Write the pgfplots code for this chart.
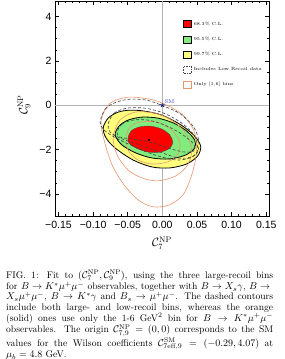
\documentclass[border=0pt]{standalone}
\usepackage{pgfplots}
\pgfplotsset{compat=1.18}
\usepackage{fontspec}
\newfontfamily\tickfont{Liberation Sans}
\definecolor{cred}{rgb}{1,0,0}
\definecolor{cgreen}{RGB}{130,235,125}
\definecolor{cyellow}{RGB}{255,255,125}
\definecolor{corange}{RGB}{232,150,110}
\definecolor{smblue}{RGB}{60,60,220}
\begin{document}
\begin{tikzpicture}
\path[use as bounding box] (-55pt,-143pt) rectangle (229pt,216pt);
\begin{axis}[
 at={(0pt,0pt)}, anchor=south west,
 scale only axis, width=214pt, height=215pt,
 xmin=-0.155, xmax=0.154, ymin=-5, ymax=4.7,
 xtick={-0.15,-0.1,-0.05,0,0.05,0.1,0.15},
 xticklabels={−0.15,−0.10,−0.05,0.00,0.05,0.10,0.15},
 ytick={-4,-2,0,2,4},
 yticklabels={−4,−2,0,2,4},
 minor x tick num=4, minor y tick num=3,
 tick align=inside,
 major tick length=4pt, minor tick length=2pt,
 tick style={black, line width=0.5pt},
 axis line style={line width=0.7pt},
 tick label style={font=\tickfont\fontsize{10.5}{12}\selectfont},
 xticklabel style={yshift=-1.5pt},
 xlabel={$\mathcal{C}_7^{\mathrm{NP}}$},
 ylabel={$\mathcal{C}_9^{\mathrm{NP}}$},
 every axis x label/.style={at={(axis description cs:0.5,-0.126)}, anchor=center, font=\fontsize{12}{14}\selectfont},
 every axis y label/.style={at={(axis description cs:-0.145,0.516)}, anchor=center, rotate=90, font=\fontsize{12}{14}\selectfont},
 legend style={at={(rel axis cs:0.598,0.914)}, anchor=north west, draw=none, fill=none,
   font=\fontsize{4.5}{5.4}\selectfont, row sep=6.3pt, inner sep=0pt},
 legend cell align=left,
]
% axes lines
\addplot[forget plot, gray!60, line width=0.5pt] coordinates {(0,-5) (0,4.7)};
\addplot[forget plot, gray!60, line width=0.5pt] coordinates {(-0.155,0) (0.154,0)};
% 99.7% yellow
\addplot[forget plot, smooth cycle, fill=cyellow, draw=black, line width=0.8pt] coordinates {
(-0.0855,-1.034) (-0.0783,-0.584) (-0.0639,-0.315) (-0.0467,-0.225) (-0.0251,-0.270)
(-0.0007,-0.449) (0.0251,-0.854) (0.0453,-1.348) (0.0553,-1.843) (0.0510,-2.292)
(0.0352,-2.652) (0.0108,-2.831) (-0.0151,-2.787) (-0.0424,-2.472) (-0.0682,-1.933) (-0.0812,-1.483)};
% 95.5% green
\addplot[forget plot, smooth cycle, fill=cgreen, draw=black, line width=0.8pt] coordinates {
(-0.0682,-1.348) (-0.0625,-0.944) (-0.0496,-0.674) (-0.0295,-0.539) (-0.0065,-0.584)
(0.0165,-0.809) (0.0352,-1.169) (0.0467,-1.573) (0.0467,-1.933) (0.0338,-2.247)
(0.0108,-2.427) (-0.0151,-2.382) (-0.0381,-2.157) (-0.0582,-1.798)};
% 68.3% red
\addplot[forget plot, smooth cycle, fill=cred, draw=black!70, line width=0.4pt] coordinates {
(-0.0496,-1.483) (-0.0453,-1.169) (-0.0338,-0.989) (-0.0180,-0.944) (-0.0007,-1.079)
(0.0108,-1.348) (0.0151,-1.663) (0.0108,-1.933) (-0.0022,-2.112) (-0.0208,-2.112)
(-0.0381,-1.933) (-0.0481,-1.708)};
% orange (only [1,6] bins)
\addplot[forget plot, smooth cycle, draw=corange, line width=0.6pt] coordinates {
(-0.0496,0.360) (-0.0180,0.270) (0.0036,0.045) (0.0280,-0.404) (0.0453,-1.124)
(0.0496,-2.022) (0.0438,-3.011) (0.0309,-4.000) (0.0108,-4.494) (-0.0136,-4.584)
(-0.0352,-4.270) (-0.0553,-3.596) (-0.0726,-2.697) (-0.0841,-1.573) (-0.0884,-0.674) (-0.0754,0.090)};
\addplot[forget plot, smooth cycle, draw=corange, line width=0.6pt] coordinates {
(-0.0395,-0.315) (-0.0108,-0.360) (0.0136,-0.674) (0.0338,-1.258) (0.0424,-2.022)
(0.0366,-2.697) (0.0194,-3.191) (-0.0065,-3.416) (-0.0295,-3.281) (-0.0496,-2.921)
(-0.0654,-2.247) (-0.0711,-1.438) (-0.0611,-0.674)};
\addplot[forget plot, smooth cycle, draw=corange, line width=0.6pt] coordinates {
(-0.0323,-0.764) (-0.0065,-0.764) (0.0136,-1.124) (0.0251,-1.663) (0.0223,-2.202)
(0.0079,-2.562) (-0.0151,-2.652) (-0.0352,-2.472) (-0.0496,-2.022) (-0.0524,-1.393) (-0.0453,-0.944)};
% dashed (includes low recoil)
\addplot[forget plot, smooth cycle, draw=black!75, dash pattern=on 3pt off 2pt, line width=0.6pt] coordinates {
(-0.0654,-1.213) (-0.0582,-0.854) (-0.0424,-0.674) (-0.0208,-0.674) (0.0036,-0.899)
(0.0280,-1.303) (0.0453,-1.753) (0.0453,-2.067) (0.0309,-2.112) (0.0079,-1.933)
(-0.0180,-1.663) (-0.0438,-1.528) (-0.0611,-1.438)};
\addplot[forget plot, smooth cycle, draw=black!75, dash pattern=on 3pt off 2pt, line width=0.6pt] coordinates {
(-0.0783,-0.854) (-0.0697,-0.360) (-0.0510,-0.135) (-0.0251,-0.135) (0.0022,-0.360)
(0.0280,-0.809) (0.0467,-1.393) (0.0510,-2.022) (0.0424,-2.337) (0.0223,-2.382)
(-0.0036,-2.112) (-0.0323,-1.798) (-0.0611,-1.483) (-0.0754,-1.213)};
\addplot[forget plot, smooth cycle, draw=black!75, dash pattern=on 3pt off 2pt, line width=0.6pt] coordinates {
(-0.0898,-0.764) (-0.0826,-0.180) (-0.0668,0.135) (-0.0467,0.270) (-0.0223,0.225)
(0.0022,-0.045) (0.0266,-0.404) (0.0453,-0.989) (0.0524,-1.573) (0.0510,-2.112)
(0.0395,-2.382) (0.0194,-2.472) (-0.0108,-2.247) (-0.0395,-1.888) (-0.0668,-1.483) (-0.0841,-1.124)};
% best fit point
\addplot[forget plot, only marks, mark=*, mark size=0.8pt, black] coordinates {(-0.0194,-1.57)};
% SM point
\addplot[forget plot, only marks, mark=star, mark size=2.2pt, mark options={draw=gray!40!blue!60!black, line width=0.8pt}] coordinates {(0,0)}
 node[anchor=south west, font=\fontsize{5.5}{6}\selectfont, text=smblue, inner sep=0.5pt, xshift=1.5pt, yshift=1pt] {SM};
% legend
\addlegendimage{legend image code/.code={\draw[draw=black, fill=cred, line width=0.5pt] (0pt,-3.5pt) rectangle (8pt,3.5pt);}}
\addlegendentry{68.3\% C.L.}
\addlegendimage{legend image code/.code={\draw[draw=black, fill=cgreen, line width=0.5pt] (0pt,-3.5pt) rectangle (8pt,3.5pt);}}
\addlegendentry{95.5\% C.L.}
\addlegendimage{legend image code/.code={\draw[draw=black, fill=cyellow, line width=0.5pt] (0pt,-3.5pt) rectangle (8pt,3.5pt);}}
\addlegendentry{99.7\% C.L.}
\addlegendimage{legend image code/.code={\draw[draw=black!75, dash pattern=on 1.5pt off 1pt, line width=0.5pt] (0pt,-3.5pt) rectangle (8pt,3.5pt);}}
\addlegendentry{Includes Low Recoil data}
\addlegendimage{legend image code/.code={\draw[draw=corange, line width=0.6pt] (0pt,-3.5pt) rectangle (8pt,3.5pt);}}
\addlegendentry{Only [1,6] bins}
\end{axis}
\node[anchor=north west, inner sep=0pt, text width=267pt, align=justify, font=\fontsize{9.6}{10.1}\selectfont] at (-49pt,-54pt) {%
\lineskiplimit=-20pt\relax\lineskip=0pt\relax
FIG. 1: Fit to $(\mathcal{C}_7^{\rm NP},\mathcal{C}_9^{\rm NP})$, using the three large-recoil bins\linebreak
for $B\to K^*\mu^+\mu^-$ observables, together with $B\to X_s\gamma$, $B\to{}$\linebreak
$X_s\mu^+\mu^-$, $B\to K^*\gamma$ and $B_s\to\mu^+\mu^-$. The dashed contours\linebreak
include both large- and low-recoil bins, whereas the orange\linebreak
(solid) ones use only the 1-6 GeV$^2$ bin for $B\to K^*\mu^+\mu^-$\linebreak
observables. The origin $\mathcal{C}_{7,9}^{\rm NP}=(0,0)$ corresponds to the SM\linebreak
values for the Wilson coefficients $\mathcal{C}_{7{\rm eff},9}^{\rm SM}=(-0.29,4.07)$ at\linebreak
$\mu_b=4.8$ GeV.};
\end{tikzpicture}
\end{document}
